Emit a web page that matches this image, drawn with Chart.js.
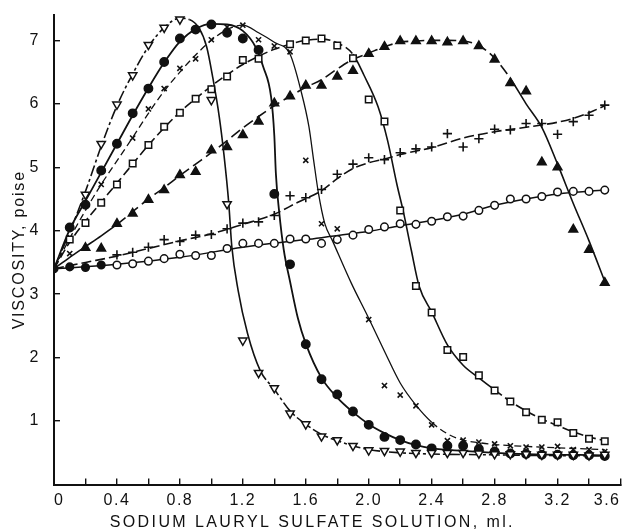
<!DOCTYPE html>
<html><head><meta charset="utf-8">
<script src="https://cdn.jsdelivr.net/npm/chart.js@4.4.1/dist/chart.umd.min.js"></script>
<style>html,body{margin:0;padding:0;background:#fff}#wrap{width:627px;height:531px;position:relative}</style>
</head><body><div id="wrap"><canvas id="c"></canvas></div>
<script>
// ---- texts and ticks ----
const xTitle = 'SODIUM LAURYL SULFATE SOLUTION, ml.';
const yTitle = 'VISCOSITY, poise';
const xTickValues = [0,0.2,0.4,0.6,0.8,1.0,1.2,1.4,1.6,1.8,2.0,2.2,2.4,2.6,2.8,3.0,3.2,3.4,3.6];
const xTickLabels = ['0','','0.4','','0.8','','1.2','','1.6','','2.0','','2.4','','2.8','','3.2','','3.6'];
const yTickValues = [1,2,3,4,5,6,7];
const yTickLabels = ['1','2','3','4','5','6','7'];

// ---- measured points (markers) ----
const triDownX = [0.2,0.3,0.4,0.5,0.6,0.7,0.8,1.0,1.1,1.2,1.3,1.4,1.5,1.6,1.7,1.8,1.9,2.0,2.1,2.2,2.3,2.4,2.5,2.6,2.7,2.8,2.9,3.0,3.1,3.2,3.3,3.4,3.5];
const triDownY = [4.57,5.37,5.99,6.45,6.93,7.20,7.33,6.06,4.42,2.27,1.76,1.52,1.12,0.95,0.76,0.70,0.61,0.54,0.53,0.52,0.50,0.50,0.50,0.50,0.49,0.48,0.48,0.48,0.47,0.47,0.47,0.46,0.47];

const dotX = [0.1,0.2,0.3,0.4,0.5,0.6,0.7,0.8,0.9,1.0,1.1,1.2,1.3,1.4,1.5,1.6,1.7,1.8,1.9,2.0,2.1,2.2,2.3,2.4,2.5,2.6,2.7,2.8,2.9,3.0,3.1,3.2,3.3,3.4,3.5];
const dotY = [4.05,4.41,4.95,5.37,5.85,6.24,6.66,7.03,7.17,7.25,7.12,7.03,6.85,4.58,3.47,2.21,1.66,1.42,1.15,0.94,0.75,0.70,0.63,0.57,0.61,0.61,0.56,0.52,0.49,0.48,0.47,0.47,0.46,0.46,0.45];

const crossX = [0.1,0.3,0.5,0.6,0.7,0.8,0.9,1.0,1.1,1.2,1.3,1.4,1.5,1.6,1.7,1.8,2.0,2.1,2.2,2.3,2.4,2.5,2.6,2.7,2.8,2.9,3.0,3.1,3.2,3.3,3.4,3.5];
const crossY = [3.64,4.73,5.46,5.92,6.24,6.56,6.71,7.01,7.21,7.24,7.01,6.91,6.82,5.11,4.11,4.03,2.60,1.56,1.41,1.24,0.94,0.69,0.70,0.67,0.64,0.61,0.59,0.59,0.60,0.55,0.55,0.52];

const squareX = [0.1,0.2,0.3,0.4,0.5,0.6,0.7,0.8,0.9,1.0,1.1,1.2,1.3,1.5,1.6,1.7,1.8,1.9,2.0,2.1,2.2,2.3,2.4,2.5,2.6,2.7,2.8,2.9,3.0,3.1,3.2,3.3,3.4,3.5];
const squareY = [3.86,4.12,4.44,4.73,5.06,5.35,5.64,5.86,6.08,6.23,6.43,6.69,6.71,6.94,7.00,7.03,6.92,6.72,6.07,5.72,4.32,3.13,2.71,2.12,2.01,1.72,1.48,1.31,1.14,1.02,0.98,0.81,0.72,0.68];

const triUpX = [0.2,0.3,0.4,0.5,0.6,0.7,0.8,0.9,1.0,1.1,1.2,1.3,1.4,1.5,1.6,1.7,1.8,1.9,2.0,2.1,2.2,2.3,2.4,2.5,2.6,2.7,2.8,2.9,3.0,3.1,3.2,3.3,3.4,3.5];
const triUpY = [3.73,3.72,4.11,4.27,4.49,4.64,4.88,4.93,5.27,5.32,5.51,5.72,6.01,6.12,6.29,6.29,6.43,6.52,6.79,6.90,6.99,6.99,6.99,6.97,6.99,6.91,6.70,6.33,6.20,5.08,5.00,4.02,3.70,3.18];

const plusX = [0.4,0.5,0.6,0.7,0.8,0.9,1.0,1.1,1.2,1.3,1.4,1.5,1.6,1.7,1.8,1.9,2.0,2.1,2.2,2.3,2.4,2.5,2.6,2.7,2.8,2.9,3.0,3.1,3.2,3.3,3.4,3.5];
const plusY = [3.62,3.66,3.74,3.86,3.83,3.93,3.94,4.03,4.12,4.14,4.24,4.55,4.52,4.65,4.89,5.05,5.15,5.12,5.23,5.29,5.32,5.53,5.32,5.45,5.60,5.59,5.69,5.69,5.52,5.72,5.82,5.98];

const ringX = [0,0.1,0.2,0.3,0.4,0.5,0.6,0.7,0.8,0.9,1.0,1.1,1.2,1.3,1.4,1.5,1.6,1.7,1.8,1.9,2.0,2.1,2.2,2.3,2.4,2.5,2.6,2.7,2.8,2.9,3.0,3.1,3.2,3.3,3.4,3.5];
const ringY = [3.40,3.43,3.42,3.46,3.46,3.48,3.52,3.56,3.63,3.61,3.61,3.72,3.80,3.80,3.80,3.87,3.87,3.80,3.86,3.93,4.02,4.06,4.11,4.10,4.15,4.22,4.23,4.32,4.40,4.50,4.50,4.54,4.61,4.62,4.62,4.64];

// ---- fitted curves ----
const triDownCurveX = [0,0.1,0.2,0.3,0.4,0.5,0.6,0.7,0.8,0.86,0.92,0.97,1.01,1.05,1.08,1.11,1.13,1.17,1.23,1.31,1.4,1.5,1.6,1.7,1.8,1.9,2.0,2.2,2.4,2.7,3.0,3.5];
const triDownCurveY = [3.4,3.98,4.62,5.33,5.97,6.47,6.9,7.2,7.35,7.33,7.2,6.9,6.4,5.8,5.2,4.45,3.75,3.06,2.38,1.8,1.5,1.16,0.95,0.79,0.69,0.61,0.55,0.5,0.48,0.47,0.46,0.45];

const dotCurveX = [0,0.1,0.2,0.3,0.4,0.5,0.6,0.7,0.8,0.9,1.0,1.1,1.2,1.28,1.33,1.38,1.40,1.41,1.43,1.46,1.5,1.55,1.6,1.7,1.8,1.9,2.0,2.1,2.2,2.3,2.4,2.6,2.8,3.0,3.5];
const dotCurveY = [3.4,4.02,4.47,4.92,5.37,5.82,6.25,6.65,6.98,7.18,7.26,7.25,7.15,6.9,6.58,6.1,5.5,4.9,4.32,3.7,3.2,2.62,2.22,1.68,1.37,1.14,0.95,0.81,0.70,0.62,0.57,0.53,0.5,0.48,0.46];

const crossCurveX = [0,0.1,0.2,0.3,0.4,0.5,0.6,0.7,0.8,0.9,1.0,1.1,1.2,1.3,1.4,1.5,1.57,1.62,1.65,1.68,1.72,1.77,1.89,2.0,2.1,2.2,2.3,2.4,2.5,2.6,2.7,2.8,3.0,3.5];
const crossCurveY = [3.4,3.88,4.32,4.73,5.1,5.47,5.85,6.2,6.5,6.77,7.0,7.17,7.24,7.12,6.97,6.78,6.2,5.64,5.11,4.6,4.12,3.84,3.17,2.62,2.1,1.6,1.25,0.98,0.8,0.7,0.66,0.63,0.6,0.55];

const squareCurveX = [0,0.1,0.2,0.3,0.4,0.5,0.6,0.7,0.8,0.9,1.0,1.1,1.2,1.3,1.4,1.5,1.6,1.7,1.8,1.9,1.97,2.06,2.12,2.18,2.22,2.27,2.32,2.4,2.5,2.6,2.7,2.8,2.9,3.0,3.1,3.2,3.3,3.4,3.5];
const squareCurveY = [3.4,3.82,4.15,4.45,4.75,5.05,5.35,5.62,5.87,6.08,6.28,6.46,6.62,6.75,6.86,6.94,7.0,7.02,6.96,6.78,6.45,5.95,5.42,4.72,4.3,3.7,3.13,2.72,2.2,1.88,1.68,1.49,1.31,1.16,1.03,0.93,0.83,0.75,0.69];

const triUpCurveX = [0,0.1,0.2,0.3,0.4,0.5,0.6,0.7,0.8,0.9,1.0,1.1,1.2,1.3,1.4,1.5,1.6,1.7,1.8,1.9,2.0,2.1,2.2,2.3,2.4,2.5,2.6,2.7,2.8,2.9,3.0,3.1,3.2,3.3,3.4,3.5];
const triUpCurveY = [3.4,3.58,3.75,3.92,4.1,4.3,4.5,4.68,4.87,5.05,5.23,5.42,5.62,5.8,5.97,6.12,6.26,6.38,6.55,6.7,6.8,6.9,6.97,6.99,7.0,7.0,6.99,6.92,6.72,6.4,6.0,5.63,5.05,4.43,3.84,3.2];

const plusCurveX = [0,0.2,0.4,0.6,0.8,1.0,1.2,1.4,1.55,1.7,1.8,1.9,2.0,2.1,2.2,2.4,2.6,2.8,3.0,3.2,3.3,3.4,3.5];
const plusCurveY = [3.4,3.5,3.6,3.72,3.84,3.95,4.1,4.26,4.45,4.63,4.82,4.98,5.07,5.13,5.2,5.31,5.46,5.56,5.63,5.71,5.77,5.86,5.97];

const ringCurveX = [0,0.4,0.8,1.2,1.6,2.0,2.2,2.4,2.6,2.8,3.0,3.2,3.5];
const ringCurveY = [3.4,3.47,3.58,3.74,3.86,3.99,4.08,4.16,4.26,4.4,4.5,4.58,4.64];

// ---- build ----
const INK = '#111';
const pts = (xs, ys) => xs.map((x, i) => ({x: x, y: ys[i]}));
const dashUnless = (ranges, dash) => (ctx) => {
  const m = (ctx.p0.parsed.x + ctx.p1.parsed.x) / 2;
  for (const r of ranges) if (m >= r[0] && m <= r[1]) return [];
  return dash;
};

function curve(xs, ys, opts) {
  return Object.assign({
    data: pts(xs, ys), showLine: true, pointRadius: 0, pointHoverRadius: 0,
    borderColor: INK, borderWidth: 1.6, cubicInterpolationMode: 'monotone',
    fill: false, order: 2
  }, opts);
}
function markers(xs, ys, opts) {
  return Object.assign({
    data: pts(xs, ys), showLine: false, borderColor: INK,
    pointBorderColor: INK, pointBorderWidth: 1.5, order: 1
  }, opts);
}

const datasets = [
  markers(triDownX, triDownY, {pointStyle: 'triangle', rotation: 180, pointRadius: 4.8, pointBackgroundColor: '#fff'}),
  markers(dotX, dotY, {pointStyle: 'circle', pointRadius: 4.2, pointBackgroundColor: INK}),
  markers(crossX, crossY, {pointStyle: 'crossRot', pointRadius: 3.6, pointBorderWidth: 1.6}),
  markers(squareX, squareY, {pointStyle: 'rect', pointRadius: 4.6, pointBackgroundColor: '#fff'}),
  markers(triUpX, triUpY, {pointStyle: 'triangle', pointRadius: 5, pointBackgroundColor: INK}),
  markers(plusX, plusY, {pointStyle: 'cross', pointRadius: 4.6, pointBorderWidth: 1.6}),
  markers(ringX, ringY, {pointStyle: 'circle', pointRadius: 3.8,
    pointBackgroundColor: (c) => (c.dataIndex < 4 ? INK : '#fff')}),

  curve(triDownCurveX, triDownCurveY, {borderDash: [11,3,3,3], segment: {borderDash: dashUnless([[0.84, 1.28]], [11,3,3,3])}}),
  curve(dotCurveX, dotCurveY, {borderWidth: 1.8}),
  curve(crossCurveX, crossCurveY, {borderWidth: 1.3, borderDash: [7,4], segment: {borderDash: dashUnless([[1.25, 2.35]], [7,4])}}),
  curve(squareCurveX, squareCurveY, {borderDash: [9,4], segment: {borderDash: dashUnless([[1.88, 2.75]], [9,4])}}),
  curve(triUpCurveX, triUpCurveY, {borderDash: [11,5], segment: {borderDash: dashUnless([[0, 0.35], [2.95, 3.6]], [11,5])}}),
  curve(plusCurveX, plusCurveY, {borderDash: [10,4]}),
  curve(ringCurveX, ringCurveY, {borderWidth: 1.5})
];

const tickFont = {family: '"Liberation Sans", Arial, sans-serif', size: 16};

const textPlugin = {
  id: 'axisText',
  beforeDraw(chart) { chart.ctx.letterSpacing = '1.5px'; },
  afterDraw(chart) {
    const ctx = chart.ctx, a = chart.chartArea;
    ctx.save();
    ctx.fillStyle = INK;
    ctx.font = '16px "Liberation Sans", Arial, sans-serif';
    ctx.letterSpacing = '2.4px';
    ctx.textAlign = 'center';
    ctx.textBaseline = 'alphabetic';
    ctx.fillText(xTitle, a.left + (a.right - a.left) * 0.456, a.bottom + 42.5);
    ctx.letterSpacing = '1.8px';
    ctx.translate(a.left - 34.5, (a.top + a.bottom) / 2);
    ctx.rotate(-Math.PI / 2);
    ctx.textBaseline = 'middle';
    ctx.fillText(yTitle, 0, 0);
    ctx.restore();
    ctx.letterSpacing = '0px';
  }
};

new Chart(document.getElementById('c'), {
  type: 'line',
  data: {datasets: datasets},
  plugins: [textPlugin],
  options: {
    responsive: true, maintainAspectRatio: false, animation: false,
    layout: {padding: {top: 15, right: 0, left: 0, bottom: 0}},
    plugins: {legend: {display: false}, tooltip: {enabled: false}},
    elements: {line: {tension: 0.4}},
    scales: {
      x: {
        type: 'linear', min: 0, max: 3.6,
        afterBuildTicks: (s) => { s.ticks = xTickValues.map(v => ({value: v})); },
        afterFit: (s) => { s.height = 46.5; s.paddingLeft = 0; s.paddingRight = 0; },
        ticks: {
          autoSkip: false, maxRotation: 0, align: 'inner', padding: 12,
          color: INK, font: tickFont,
          callback: (v, i) => xTickLabels[i]
        },
        grid: {drawOnChartArea: false, drawTicks: true, tickLength: -6, color: INK, lineWidth: 1.4},
        border: {display: true, color: INK, width: 2}
      },
      y: {
        type: 'linear', min: 0, max: 7.4,
        afterBuildTicks: (s) => { s.ticks = yTickValues.map(v => ({value: v})); },
        afterFit: (s) => { s.width = 54; s.paddingTop = 0; s.paddingBottom = 0; },
        ticks: {
          autoSkip: false, padding: 20, color: INK, font: tickFont,
          callback: (v, i) => yTickLabels[i]
        },
        grid: {drawOnChartArea: false, drawTicks: true, tickLength: -6, color: INK, lineWidth: 1.4},
        border: {display: true, color: INK, width: 2}
      }
    }
  }
});
</script>
</body></html>
